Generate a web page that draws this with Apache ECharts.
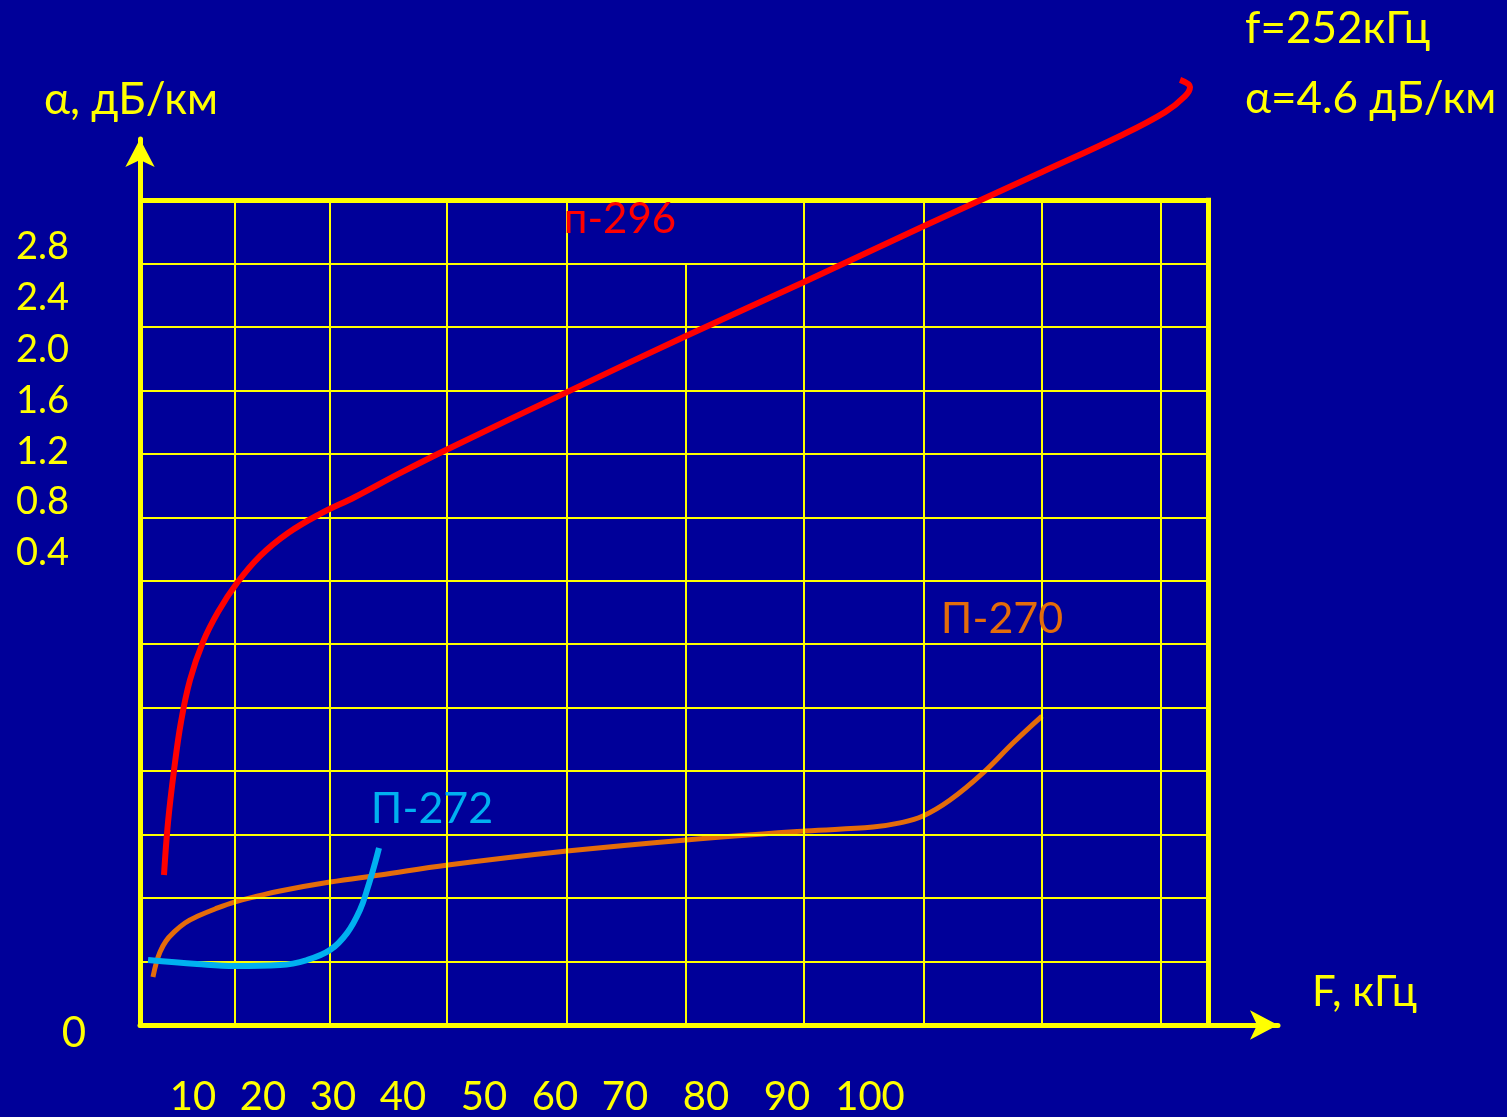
<!DOCTYPE html>
<html>
<head>
<meta charset="utf-8">
<script src="https://cdn.jsdelivr.net/npm/echarts@6/dist/echarts.min.js"></script>
<style>
html,body{margin:0;padding:0;background:#000099;}
#c{width:1507px;height:1117px;}
</style>
</head>
<body>
<div id="c"></div>
<script>
// ---------- data (F in kHz, alpha in dB/km) ----------
const seriesNames = ['п-296', 'П-270', 'П-272'];

const p296 = [
  [7.20,0.591],[7.74,0.799],[8.54,1.004],[9.47,1.194],[10.67,1.359],[12.41,1.509],
  [14.41,1.627],[16.94,1.741],[20.01,1.847],[23.75,1.938],[28.02,2.013],[32.69,2.080],
  [38.69,2.174],[45.10,2.269],[60.97,2.493],[76.85,2.714],[92.60,2.927],[108.61,3.147],
  [124.35,3.360],[134.76,3.502],[140.77,3.596],[143.44,3.659],[144.10,3.695],[142.77,3.723]
];

const p270 = [
  [5.73,0.189],[6.13,0.240],[6.67,0.288],[7.47,0.331],[8.40,0.362],[10.00,0.402],
  [11.74,0.429],[14.01,0.457],[16.68,0.485],[19.75,0.508],[22.68,0.528],[29.35,0.563],
  [36.02,0.591],[45.10,0.630],[60.97,0.685],[76.85,0.729],[92.73,0.764],[101.80,0.780],
  [105.41,0.796],[108.47,0.823],[112.08,0.886],[116.48,0.993],[120.48,1.111],[124.35,1.217]
];

const p272 = [
  [5.07,0.256],[11.61,0.240],[16.68,0.232],[22.68,0.236],[26.28,0.256],[29.35,0.295],
  [31.62,0.362],[33.35,0.453],[34.42,0.544],[35.36,0.638],[35.89,0.697]
];

// tick labels as printed on the chart, and where they sit along each axis
const xTickLabels = ['10','20','30','40','50','60','70','80','90','100'];
const xTickAt     = [11.07,20.41,29.75,39.09,49.90,59.37,68.71,79.52,90.33,101.40];
const yTickLabels = ['2.8','2.4','2.0','1.6','1.2','0.8','0.4'];
const yTickAt     = [3.065,2.864,2.659,2.458,2.257,2.060,1.859];
const yZeroLabel  = ['0'];

// grid (paper) lines
const gridF = [16.68,29.35,44.96,60.97,76.85,92.60,108.61,124.35,140.23];
const gridA = [0.25,0.5,0.75,1.0,1.25,1.5,1.75,2.0,2.25,2.5,2.75,3.0];

// annotation text
const noteLines = ['f=252кГц', 'α=4.6 дБ/км'];

// ---------- layout / style ----------
const X_MIN = 4, X_MAX = 155.84, BOX_R = 146.5;
const Y_MIN = 0, Y_MAX = 3.490, BOX_T = 3.25;
const YEL = '#ffff00', BG = '#000099';
const FONT = 'Lato';

function labelFor(v, ats, labels) {
  let b = 0;
  for (let i = 1; i < ats.length; i++) if (Math.abs(ats[i] - v) < Math.abs(ats[b] - v)) b = i;
  return labels[b];
}

const gridLines = [];
gridA.forEach(a => gridLines.push([{coord:[X_MIN, a]}, {coord:[BOX_R, a]}]));
gridF.forEach(f => {
  const top = (f === 76.85) ? 3.0 : BOX_T;   // this line stops one row below the frame
  gridLines.push([{coord:[f, Y_MIN]}, {coord:[f, top]}]);
});
// frame top and right (thick)
gridLines.push([{coord:[X_MIN, BOX_T], lineStyle:{width:5}}, {coord:[BOX_R + 0.3, BOX_T]}]);
gridLines.push([{coord:[BOX_R, Y_MIN], lineStyle:{width:5}}, {coord:[BOX_R, BOX_T + 0.009]}]);

const chart = echarts.init(document.getElementById('c'), null, {renderer:'canvas'});
chart.setOption({
  backgroundColor: BG,
  animation: false,
  title: [
    {text: noteLines[0], left: 1245, top: 7, padding: 0,
     textStyle:{color:YEL, fontSize:44, fontWeight:'normal', fontFamily:FONT}},
    {text: noteLines[1], left: 1245, top: 77, padding: 0,
     textStyle:{color:YEL, fontSize:44, fontWeight:'normal', fontFamily:FONT}}
  ],
  grid: {left:140, right:229, top:139, bottom:92, containLabel:false},
  xAxis: {
    type:'value', min:X_MIN, max:X_MAX,
    axisLine:{show:true, onZero:false, symbol:['none','arrow'], symbolSize:[22,28],
              lineStyle:{color:YEL, width:5}},
    axisTick:{show:false}, splitLine:{show:false},
    axisLabel:{customValues:xTickAt, formatter:v => labelFor(v, xTickAt, xTickLabels),
               color:YEL, fontSize:40, fontFamily:FONT, margin:52, hideOverlap:false},
    name:'F, кГц', nameLocation:'end', nameGap:34,
    nameTextStyle:{color:YEL, fontSize:42, fontFamily:FONT, align:'left',
                   verticalAlign:'bottom', lineHeight:65}
  },
  yAxis: [
    {
      type:'value', min:Y_MIN, max:Y_MAX, position:'left',
      axisLine:{show:true, onZero:false, symbol:['none','arrow'], symbolSize:[22,28],
                lineStyle:{color:YEL, width:5}},
      axisTick:{show:false}, splitLine:{show:false},
      axisLabel:{customValues:yTickAt, formatter:v => labelFor(v, yTickAt, yTickLabels),
                 color:YEL, fontSize:38, fontFamily:FONT, align:'left', margin:124, hideOverlap:false},
      name:'α, дБ/км', nameLocation:'end', nameGap:39,
      nameTextStyle:{color:YEL, fontSize:44, fontFamily:FONT, align:'center',
                     verticalAlign:'middle', padding:[0,18,0,0]}
    },
    {
      type:'value', min:Y_MIN, max:Y_MAX, position:'left',
      axisLine:{show:false}, axisTick:{show:false}, splitLine:{show:false},
      axisLabel:{customValues:[0], formatter:() => yZeroLabel[0],
                 color:YEL, fontSize:42, fontFamily:FONT, margin:54,
                 verticalAlign:'top', lineHeight:16}
    }
  ],
  series: [
    {
      type:'line', name:'grid', data:[], z:1, silent:true,
      markLine:{silent:true, symbol:['none','none'], label:{show:false},
                lineStyle:{color:YEL, width:2, type:'solid'}, emphasis:{disabled:true},
                data:gridLines}
    },
    {
      type:'line', name:seriesNames[0], data:p296, smooth:0.4, showSymbol:false, clip:false, z:5,
      lineStyle:{color:'#ff0000', width:6},
      markPoint:{symbol:'rect', symbolSize:1, itemStyle:{color:'rgba(0,0,0,0)'},
        data:[{coord:[68.05,3.175], label:{show:true, position:'inside', formatter:seriesNames[0],
              color:'#ff0000', fontSize:42, fontFamily:FONT}}]}
    },
    {
      type:'line', name:seriesNames[1], data:p270, smooth:0.4, showSymbol:false, clip:false, z:4,
      lineStyle:{color:'#e46c0a', width:5},
      markPoint:{symbol:'rect', symbolSize:1, itemStyle:{color:'rgba(0,0,0,0)'},
        data:[{coord:[119.02,1.599], label:{show:true, position:'inside', formatter:seriesNames[1],
              color:'#e46c0a', fontSize:43, fontFamily:FONT}}]}
    },
    {
      type:'line', name:seriesNames[2], data:p272, smooth:0.4, showSymbol:false, clip:false, z:6,
      lineStyle:{color:'#00b0f0', width:6},
      markPoint:{symbol:'rect', symbolSize:1, itemStyle:{color:'rgba(0,0,0,0)'},
        data:[{coord:[42.96,0.851], label:{show:true, position:'inside', formatter:seriesNames[2],
              color:'#00b0f0', fontSize:43, fontFamily:FONT}}]}
    }
  ]
});
</script>
</body>
</html>
